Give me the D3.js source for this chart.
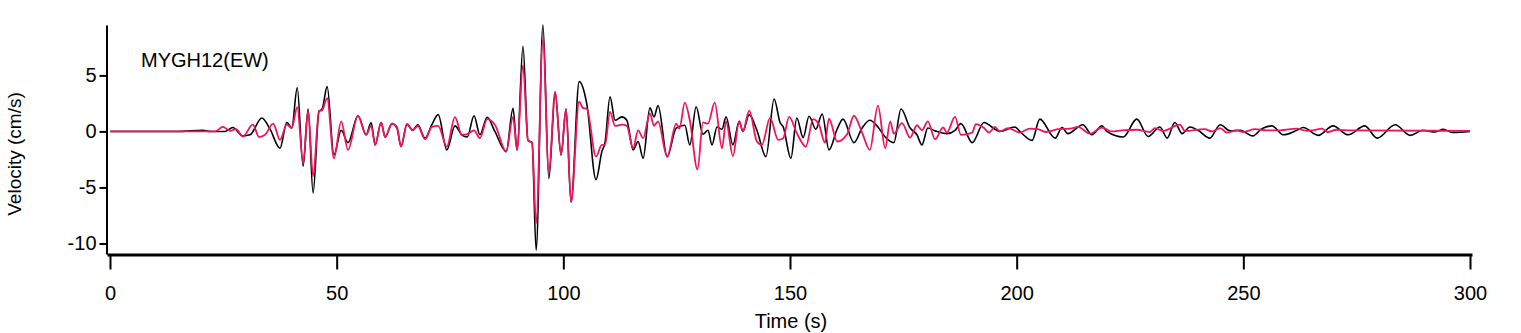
<!DOCTYPE html>
<html>
<head>
<meta charset="utf-8">
<script src="https://cdn.jsdelivr.net/npm/d3@7"></script>
<style>
  body { margin: 0; background: #fff; }
  svg text { font-family: "Liberation Sans", Arial, sans-serif; fill: #000; }
</style>
</head>
<body>
<div class="visHolder"></div>
<script>
// observed (black) trace: time (s) and velocity (cm/s)
const obsTime = [0, 14.8, 20.5, 22.1, 25.4, 27.1, 29.3, 30.9, 33.5, 35.3, 37.5, 39.0, 40.1, 41.3, 42.6, 43.7, 44.8, 46.1, 46.8, 47.9,
  49.4, 51.0, 52.5, 54.7, 56.5, 57.6, 58.5, 59.8, 60.7, 62.2, 63.3, 64.2, 65.5, 66.8, 67.9, 69.5, 71.0, 72.4, 74.3, 76.1,
  77.6, 78.8, 80.3, 81.6, 83.2, 84.9, 87.4, 88.9, 89.8, 91.1, 92.2, 93.1, 94.0, 95.5, 96.8, 98.2, 99.5, 100.6, 101.7, 103.5,
  105.2, 107.2, 108.5, 109.2, 110.3, 111.4, 112.9, 114.0, 115.4, 116.5, 117.6, 119.1, 120.0, 120.9, 122.9, 124.9, 126.8, 127.9, 129.3, 130.8,
  131.9, 132.8, 133.9, 135.0, 135.9, 137.4, 138.8, 139.6, 141.0, 142.7, 144.7, 146.5, 147.8, 148.5, 150.2, 151.5, 152.9, 154.2, 155.7, 157.1,
  158.6, 160.4, 161.7, 164.1, 165.9, 167.6, 169.4, 171.0, 172.9, 174.5, 176.5, 178.0, 179.1, 180.4, 182.0, 184.6, 186.4, 187.7, 190.2, 192.8,
  195.2, 196.3, 199.6, 200.7, 203.4, 205.1, 208.5, 210.0, 211.3, 214.6, 216.6, 218.8, 219.9, 223.5, 226.5, 229.0, 231.6, 233.2, 234.9, 236.5,
  238.2, 240.0, 242.6, 244.9, 247.1, 249.3, 252.1, 254.1, 256.3, 258.8, 261.8, 263.2, 266.5, 269.8, 273.1, 276.8, 279.5, 283.5, 286.8, 289.6,
  292.3, 294.1, 296.1, 300];
const obsVel = [0, 0, 0.1, 0, 0, 0.35, -0.4, -0.3, 1.2, 0.2, -1.5, 0.8, 0.3, 3.9, -3.1, 2.0, -5.5, 1.8, 2.0, 4.0,
  -2.1, 0.1, -1.0, 1.4, -0.3, 0.8, -1.2, 0.8, -0.5, 0.7, 0.3, -1.35, 0.65, 0.1, 0.6, -0.6, 0.6, 1.5, -1.65, 0.5,
  -0.3, -0.5, 1.4, -0.3, 1.27, 0, -1.8, 2.07, -1.65, 7.6, -0.8, -1.0, -10.6, 9.5, -4.2, 3.4, -2.1, 2.0, -6.3, 4.45,
  2.4, -4.3, -1.8, -1.0, 3.1, 1.0, 1.3, 1.0, -1.65, -0.9, -2.4, 2.1, 1.3, 2.3, -2.25, 0.3, 0.55, -1.2, 2.2, -0.25,
  0.1, -1.2, 0.4, 0.2, 1.3, -1.2, 0.9, 0, 1.5, 0.1, -2.25, 2.9, 0.8, 0.4, -2.4, 1.2, -0.55, 1.35, 0.2, 1.56,
  -1.65, 0.2, 1.1, -1.0, 0.3, 1.0, 0.4, -0.5, -1.0, 2.0, 0.3, -0.3, -1.2, 0.3, 0.05, -0.2, 0.1, 0.7, -1.0, 0.8,
  0.2, 0, 0.4, 0, -0.8, 1.1, -0.6, 0.35, -0.2, 0.6, -0.3, 0.5, 0, -0.5, 1.1, -0.45, 0.4, -0.6, 0.8, -0.2,
  0.4, 0.1, -0.6, 0.6, 0.05, 0.1, -0.4, 0.25, 0.5, -0.3, 0.1, 0.35, -0.35, 0.5, -0.3, 0.5, -0.6, 0.6, -0.35, 0.1,
  -0.05, 0.2, -0.1, 0];

// synthetic (red) trace
const synTime = [0, 14.8, 23.2, 24.9, 26.5, 27.8, 29.3, 31.5, 32.9, 34.2, 36.0, 37.5, 39.0, 40.1, 41.3, 42.6, 43.7, 44.8, 46.1, 46.8,
  47.9, 49.4, 51.0, 52.5, 54.7, 56.5, 57.6, 58.5, 59.8, 60.7, 62.2, 63.3, 64.2, 65.5, 66.8, 67.9, 69.5, 71.0, 72.4, 74.3,
  76.1, 77.6, 78.8, 80.3, 81.6, 83.2, 84.9, 87.4, 88.9, 89.8, 91.1, 92.2, 93.1, 94.0, 95.5, 96.8, 98.2, 99.5, 100.6, 101.7,
  103.5, 104.3, 105.2, 107.2, 108.5, 109.2, 110.3, 111.4, 112.9, 114.0, 115.4, 116.5, 117.6, 119.1, 120.0, 120.9, 122.9, 124.9, 125.6, 126.8,
  127.9, 129.6, 130.8, 131.9, 133.4, 135.0, 135.9, 137.4, 138.8, 139.6, 141.0, 142.7, 143.8, 145.6, 147.4, 148.5, 149.8, 151.5, 153.5, 155.1,
  156.4, 157.7, 158.6, 160.4, 162.6, 164.1, 165.9, 167.6, 169.4, 171.0, 172.1, 172.9, 174.7, 176.5, 178.0, 179.1, 180.4, 182.0, 183.8, 184.6,
  186.4, 187.7, 190.2, 191.0, 192.8, 193.9, 195.2, 196.3, 198.1, 200.7, 202.9, 204.7, 206.5, 209.1, 211.8, 213.5, 216.2, 218.8, 221.0, 223.2,
  226.5, 229.4, 230.5, 232.3, 236.0, 237.1, 241.5, 243.1, 244.9, 246.4, 248.6, 249.9, 252.6, 255.2, 258.1, 261.8, 264.0, 265.3, 267.3, 268.6,
  270.6, 273.5, 300];
const synVel = [0, 0, 0, 0.4, 0.05, 0.2, -0.45, 0.6, -0.5, -0.3, 0.7, -0.75, 0.6, 0.3, 2.16, -2.8, 1.8, -4.0, 1.8, 1.9,
  2.96, -2.4, 0.9, -1.65, 1.4, -0.3, 0.5, -1.2, 0.8, -0.5, 0.7, 0.4, -1.35, 0.65, 0.1, 0.5, -0.7, 0.4, 0.5, -1.35,
  1.27, -0.3, -0.25, 0.1, -0.6, 1.1, 0.6, -1.8, 1.3, -1.65, 5.9, -0.8, -1.0, -8.2, 8.2, -3.6, 3.55, -2.1, 2.0, -6.3,
  2.66, 2.1, 2.0, -2.25, -1.2, -1.2, 1.75, 0.5, 0.6, 0.5, -1.5, 0.1, -0.6, 1.6, 0.5, 0.9, -2.25, 0.7, 0.25, 2.57,
  1.0, -3.4, 0.8, 0.7, 2.57, -1.5, 0.9, -2.2, 0.9, 0.0, 1.86, -0.9, -1.2, 1.2, -0.75, -0.6, 1.3, -0.15, -1.35, 1.1,
  0.6, -1.0, 1.15, -0.9, -0.25, 1.4, -0.1, -1.65, 2.3, -1.5, 0.9, -0.2, 0.75, -0.55, 0.55, 0.1, 0.9, -0.7, 0.35, -0.1,
  1.3, -0.3, -0.1, 0.65, 0.3, -0.1, 0.4, 0, 0.3, -0.1, 0.25, 0.2, -0.05, 0.2, 0.25, 0.4, -0.2, 0.35, 0.0, 0.1,
  0.15, -0.05, 0.3, 0.05, 0.6, 0.05, 0.2, 0.0, 0.3, -0.1, 0.1, -0.05, 0.2, 0.1, 0.1, 0.25, 0.05, 0.1, 0.25, -0.05,
  0.15, 0.1, 0.05];

const xTicks = [0, 50, 100, 150, 200, 250, 300];
const yTicks = [-10, -5, 0, 5];
const stationName = "MYGH12(EW)";

const w = 1521;
const h = 333;

const xScale = d3.scaleLinear().domain([-0.66, 300.44]).range([107, 1472]);
const yScale = d3.scaleLinear().domain([-10.94, 9.5]).range([254, 25]);

const svg = d3.select(".visHolder")
  .append("svg")
  .attr("width", w)
  .attr("height", h);

// axes (plain hyphen for negatives, like the original)
const xAxis = d3.axisBottom(xScale).tickValues(xTicks).tickFormat(d => String(d))
  .tickSizeOuter(0).tickSizeInner(15).tickPadding(16);
const yAxis = d3.axisLeft(yScale).tickValues(yTicks).tickFormat(d => String(d))
  .tickSizeOuter(0).tickSizeInner(7).tickPadding(3);

const gx = svg.append("g")
  .attr("transform", "translate(0,254.5)")
  .call(xAxis);
gx.select(".domain").attr("stroke-width", 3);
gx.selectAll(".tick line").attr("stroke-width", 2);
gx.selectAll(".tick text").attr("font-size", 20).attr("dy", "0.71em");

const gy = svg.append("g")
  .attr("transform", "translate(106.5,0)")
  .call(yAxis);
gy.select(".domain").attr("stroke-width", 2);
gy.selectAll(".tick line").attr("stroke-width", 2);
gy.selectAll(".tick text").attr("font-size", 20);

// traces
const line = d3.line()
  .x(d => xScale(d[0]))
  .y(d => yScale(d[1]))
  .curve(d3.curveMonotoneX);

const obs = obsTime.map((t, i) => [t, obsVel[i]]);
const syn = synTime.map((t, i) => [t, synVel[i]]);

svg.append("path")
  .datum(obs)
  .attr("fill", "none")
  .attr("stroke", "#000")
  .attr("stroke-width", 1.6)
  .attr("d", line);

svg.append("path")
  .datum(syn)
  .attr("fill", "none")
  .attr("stroke", "#f0145a")
  .attr("stroke-width", 1.8)
  .attr("d", line);

// labels
svg.append("text")
  .attr("x", 141)
  .attr("y", 67)
  .attr("font-size", 20)
  .text(stationName);

svg.append("text")
  .attr("transform", "translate(21,154) rotate(-90)")
  .attr("text-anchor", "middle")
  .attr("font-size", 19)
  .text("Velocity (cm/s)");

svg.append("text")
  .attr("x", 791)
  .attr("y", 328)
  .attr("text-anchor", "middle")
  .attr("font-size", 20)
  .text("Time (s)");
</script>
</body>
</html>
